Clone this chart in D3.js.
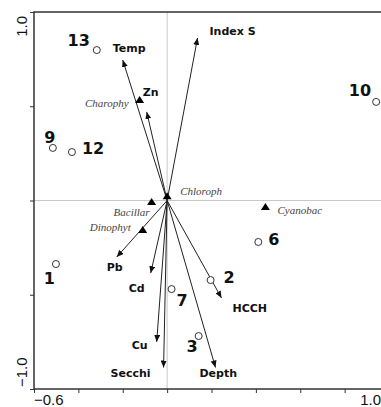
<!DOCTYPE html>
<html>
<head>
<meta charset="utf-8">
<script src="https://cdn.jsdelivr.net/npm/d3@7"></script>
<style>
  body { margin: 0; background: #fff; }
  svg { display: block; }
</style>
</head>
<body>
<div id="chart"></div>
<script>
// sites (open circles)
const siteNames = ["1", "2", "3", "6", "7", "9", "10", "12", "13"];
const siteX = [-0.501, 0.196, 0.142, 0.411, 0.020, -0.515, 0.942, -0.429, -0.317];
const siteY = [-0.337, -0.422, -0.719, -0.220, -0.470, 0.279, 0.523, 0.257, 0.798];

// species (filled triangles)
const speciesNames = ["Chloroph", "Bacillar", "Dinophyt", "Charophy", "Cyanobac"];
const speciesX = [0.000, -0.070, -0.110, -0.124, 0.443];
const speciesY = [0.022, -0.008, -0.156, 0.533, -0.034];

// environmental variables (arrows)
const envNames = ["Temp", "Zn", "Index S", "Pb", "Cd", "Cu", "Secchi", "Depth", "HCCH"];
const envX = [-0.200, -0.092, 0.137, -0.227, -0.074, -0.047, -0.016, 0.218, 0.245];
const envY = [0.745, 0.470, 0.862, -0.300, -0.385, -0.750, -0.886, -0.886, -0.517];

const xTicks = [-0.6, -0.4, -0.2, 0.0, 0.2, 0.4, 0.6, 0.8, 1.0];
const yTicks = [-1.0, -0.5, 0.0, 0.5, 1.0];

// label placement (dx, dy, anchor)
const siteLabelPos = {
  "1": [-1, 14, "end"], "2": [13, -3, "start"], "3": [-1, 10, "end"],
  "6": [10, -3, "start"], "7": [5, 11, "start"], "9": [-3, -11, "middle"],
  "10": [-5, -12, "end"], "12": [10, -4, "start"], "13": [-7, -10, "end"]
};
const speciesLabelPos = {
  "Chloroph": [13, -5, "start"], "Bacillar": [-2, 10, "end"],
  "Dinophyt": [-12, -3, "end"], "Charophy": [-11, 3, "end"],
  "Cyanobac": [12, 3, "start"]
};
const envLabelPos = {
  "Temp": [-10, -12], "Zn": [-4, -20], "Index S": [12, -7],
  "Pb": [-10, 10], "Cd": [-22, 15], "Cu": [-25, 3],
  "Secchi": [-53, 6], "Depth": [-16, 6], "HCCH": [11, 10]
};

const width = 381, height = 407;
const plotLeft = 34, plotRight = 389, plotTop = 12, plotBottom = 389;

const svg = d3.select("#chart").append("svg")
  .attr("width", width)
  .attr("height", height);

const x = d3.scaleLinear().domain([-0.6, 1.0]).range([plotLeft, plotRight]);
const y = d3.scaleLinear().domain([-1.0, 1.0]).range([plotBottom, plotTop]);

svg.append("defs").append("marker")
  .attr("id", "head")
  .attr("markerUnits", "userSpaceOnUse")
  .attr("markerWidth", 8)
  .attr("markerHeight", 6)
  .attr("refX", 7)
  .attr("refY", 3)
  .attr("orient", "auto")
  .append("path")
  .attr("d", "M0,0 L7,3 L0,6 Z")
  .attr("fill", "#111");

// zero lines
svg.append("line")
  .attr("x1", x(0)).attr("x2", x(0))
  .attr("y1", plotTop).attr("y2", plotBottom)
  .attr("stroke", "#c8c8c8").attr("stroke-width", 1);
svg.append("line")
  .attr("x1", plotLeft).attr("x2", plotRight)
  .attr("y1", y(0)).attr("y2", y(0))
  .attr("stroke", "#c8c8c8").attr("stroke-width", 1);

// frame
svg.append("rect")
  .attr("x", plotLeft).attr("y", plotTop)
  .attr("width", plotRight - plotLeft).attr("height", plotBottom - plotTop)
  .attr("fill", "none")
  .attr("stroke", "#333")
  .attr("stroke-width", 1.5);

// axes (ticks only)
const xAxis = svg.append("g")
  .attr("transform", `translate(0,${plotBottom})`)
  .call(d3.axisBottom(x).tickValues(xTicks).tickSize(4).tickSizeOuter(0).tickFormat(""));
const yAxis = svg.append("g")
  .attr("transform", `translate(${plotLeft},0)`)
  .call(d3.axisLeft(y).tickValues(yTicks).tickSize(4).tickSizeOuter(0).tickFormat(""));
[xAxis, yAxis].forEach(a => {
  a.select(".domain").remove();
  a.selectAll(".tick line").attr("stroke", "#333");
});

const axisFont = "'Liberation Sans', Arial, sans-serif";
svg.append("text")
  .attr("x", x(xTicks[0])).attr("y", 405)
  .attr("text-anchor", "start")
  .attr("font-family", axisFont).attr("font-size", 15).attr("fill", "#111")
  .text(d3.format(".1f")(xTicks[0]));
svg.append("text")
  .attr("x", 381).attr("y", 405)
  .attr("text-anchor", "end")
  .attr("font-family", axisFont).attr("font-size", 15).attr("fill", "#111")
  .text(d3.format(".1f")(xTicks[xTicks.length - 1]));
svg.append("text")
  .attr("transform", `translate(27,${y(yTicks[yTicks.length - 1]) + 4}) rotate(-90)`)
  .attr("text-anchor", "end")
  .attr("font-family", axisFont).attr("font-size", 15).attr("fill", "#111")
  .text(d3.format(".1f")(yTicks[yTicks.length - 1]));
svg.append("text")
  .attr("transform", `translate(27,${y(yTicks[0]) - 2}) rotate(-90)`)
  .attr("text-anchor", "start")
  .attr("font-family", axisFont).attr("font-size", 15).attr("fill", "#111")
  .text(d3.format(".1f")(yTicks[0]));

// arrows
const env = envNames.map((n, i) => ({ name: n, x: envX[i], y: envY[i] }));
svg.append("g").selectAll("line")
  .data(env)
  .join("line")
  .attr("x1", x(0)).attr("y1", y(0))
  .attr("x2", d => x(d.x)).attr("y2", d => y(d.y))
  .attr("stroke", "#222")
  .attr("stroke-width", 1)
  .attr("marker-end", "url(#head)");
svg.append("g").selectAll("text")
  .data(env)
  .join("text")
  .attr("x", d => x(d.x) + envLabelPos[d.name][0])
  .attr("y", d => y(d.y) + envLabelPos[d.name][1])
  .attr("dy", "0.35em")
  .attr("font-family", "'DejaVu Sans', Verdana, sans-serif")
  .attr("font-weight", "bold")
  .attr("font-size", 11)
  .attr("fill", "#111")
  .text(d => d.name);

// species
const species = speciesNames.map((n, i) => ({ name: n, x: speciesX[i], y: speciesY[i] }));
svg.append("g").selectAll("path")
  .data(species)
  .join("path")
  .attr("transform", d => `translate(${x(d.x)},${y(d.y)})`)
  .attr("d", "M0,-4 L4.5,3 L-4.5,3 Z")
  .attr("fill", "#000");
svg.append("g").selectAll("text")
  .data(species)
  .join("text")
  .attr("x", d => x(d.x) + speciesLabelPos[d.name][0])
  .attr("y", d => y(d.y) + speciesLabelPos[d.name][1])
  .attr("dy", "0.35em")
  .attr("text-anchor", d => speciesLabelPos[d.name][2])
  .attr("font-family", "'Liberation Serif', 'Times New Roman', serif")
  .attr("font-style", "italic")
  .attr("font-size", 11)
  .attr("fill", "#444")
  .text(d => d.name);

// sites
const sites = siteNames.map((n, i) => ({ name: n, x: siteX[i], y: siteY[i] }));
svg.append("g").selectAll("circle")
  .data(sites)
  .join("circle")
  .attr("cx", d => x(d.x)).attr("cy", d => y(d.y))
  .attr("r", 3.5)
  .attr("fill", "#fff")
  .attr("stroke", "#333")
  .attr("stroke-width", 1);
svg.append("g").selectAll("text")
  .data(sites)
  .join("text")
  .attr("x", d => x(d.x) + siteLabelPos[d.name][0])
  .attr("y", d => y(d.y) + siteLabelPos[d.name][1])
  .attr("dy", "0.35em")
  .attr("text-anchor", d => siteLabelPos[d.name][2])
  .attr("font-family", "'DejaVu Sans', Verdana, sans-serif")
  .attr("font-weight", "bold")
  .attr("font-size", 16)
  .attr("fill", "#111")
  .text(d => d.name);
</script>
</body>
</html>
